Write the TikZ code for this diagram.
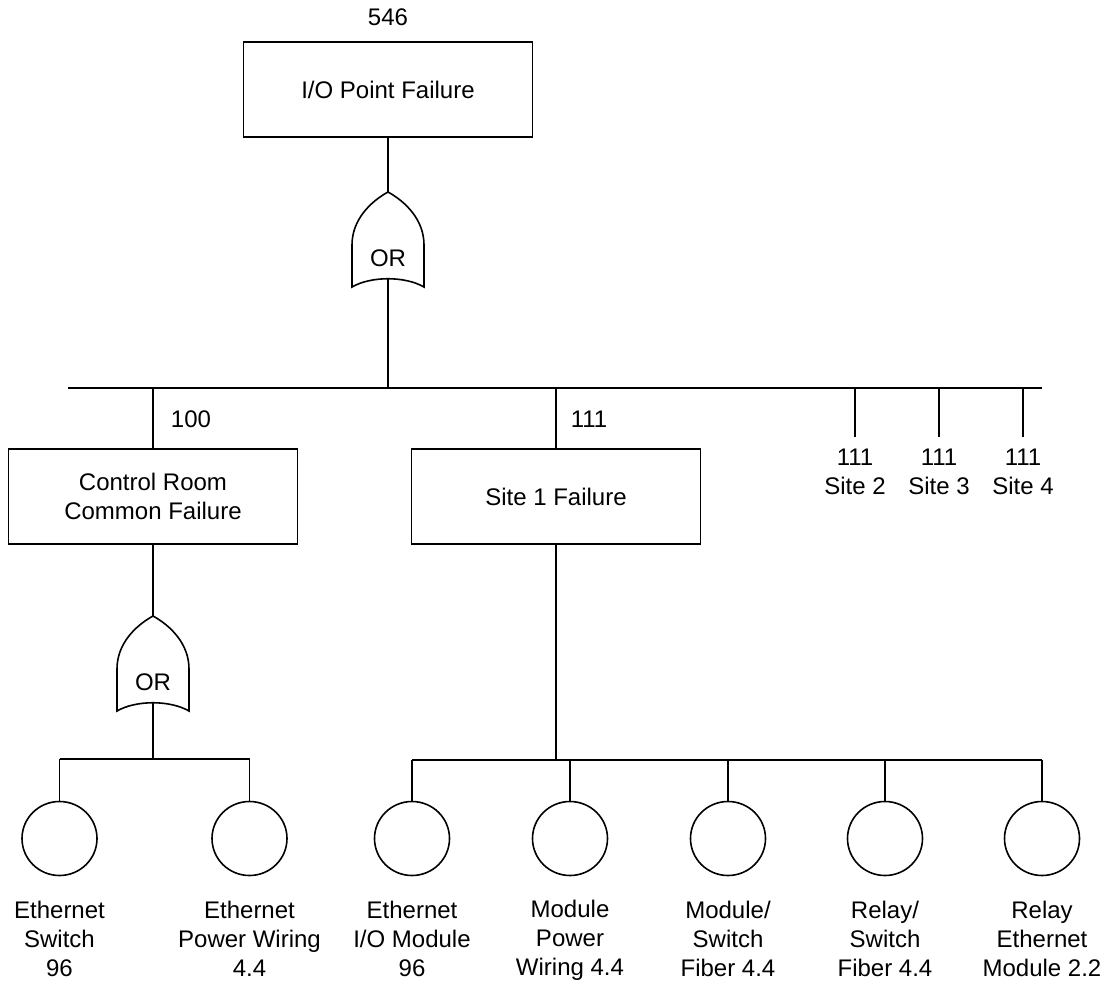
\documentclass[tikz,border=0pt]{standalone}
\usepackage{fontspec}
\setmainfont{Liberation Sans}
\usetikzlibrary{shapes.geometric}
\tikzset{
  txt/.style={font=\fontsize{24}{29}\selectfont, inner sep=0pt, align=center},
  event/.style={txt, draw, minimum width=289pt, minimum height=95pt},
  basic/.style={draw, ellipse, inner sep=0pt, minimum width=75pt, minimum height=74pt},
  % OR gate drawn from its tip downwards
  orgate/.pic={
    \draw (-36,95) -- (-36,53) .. controls (-36,28) and (-18,10) .. (0,0)
          .. controls (18,10) and (36,28) .. (36,53) -- (36,95)
          .. controls (17,84) and (-17,84) .. (-36,95) -- cycle;
    \node[txt] at (0,66) {OR};
  }
}
\begin{document}
\begin{tikzpicture}[x=1pt, y=-1pt, line width=1.6pt]
\useasboundingbox (0,0) rectangle (1116,984);

% top event
\node[txt] (n546) at (388,17) {546};
\node[event] (top) at (388,89.5) {I/O Point Failure};

% first OR gate
\pic at (388,192) {orgate};
\coordinate (g1t) at (388,192);
\coordinate (g1b) at (388,279);

% main bus
\coordinate (busL) at (68,388);
\coordinate (busR) at (1042,388);
\coordinate (busM) at (388,388);

% intermediate events
\node[event] (cr) at (153,496.5) {Control Room\\Common Failure};
\node[event] (s1) at (556,496.5) {Site 1 Failure};
\node[txt] (l100) at (191,419) {100};
\node[txt] (l111) at (589,419) {111};

% other sites
\node[txt] (s2) at (855,472) {111\\Site 2};
\node[txt] (s3) at (939,472) {111\\Site 3};
\node[txt] (s4) at (1023,472) {111\\Site 4};
\coordinate (s2t) at (855,437);
\coordinate (s3t) at (939,437);
\coordinate (s4t) at (1023,437);

% second OR gate
\pic at (153,616) {orgate};
\coordinate (g2t) at (153,616);
\coordinate (g2b) at (153,703);
\coordinate (b2) at (153,759);

% basic events
\node[basic] (e1) at (59.5,838.5) {};
\node[basic] (e2) at (249.5,838.5) {};
\node[basic] (e3) at (412,838.5) {};
\node[basic] (e4) at (570,838.5) {};
\node[basic] (e5) at (728,838.5) {};
\node[basic] (e6) at (885,838.5) {};
\node[basic] (e7) at (1042,838.5) {};
\coordinate (b3) at (556,760);

\node[txt] (t1) at (59.5,939) {Ethernet\\Switch\\96};
\node[txt] (t2) at (249.5,939) {Ethernet\\Power Wiring\\4.4};
\node[txt] (t3) at (412,939) {Ethernet\\I/O Module\\96};
\node[txt] (t4) at (570,940) {Module\\Power\\Wiring 4.4};
\node[txt] (t5) at (728,939) {Module/\\Switch\\Fiber 4.4};
\node[txt] (t6) at (885,939) {Relay/\\Switch\\Fiber 4.4};
\node[txt] (t7) at (1042,939) {Relay\\Ethernet\\Module 2.2};

% connectors
\draw (top.south) -- (g1t);
\draw (g1b) -- (busM);
\draw (busL) -- (busR);
\draw (cr.north |- busM) -- (cr.north);
\draw (s1.north |- busM) -- (s1.north);
\draw (s2t |- busM) -- (s2t);
\draw (s3t |- busM) -- (s3t);
\draw (s4t |- busM) -- (s4t);

\draw (cr.south) -- (g2t);
\draw (g2b) -- (b2);
\draw (e1.north |- b2) -- (e2.north |- b2);
\draw (e1.north |- b2) -- (e1.north);
\draw (e2.north |- b2) -- (e2.north);

\draw (s1.south) -- (b3);
\draw (e3.north |- b3) -- (e7.north |- b3);
\foreach \e in {e3,e4,e5,e6,e7}
  \draw (\e.north |- b3) -- (\e.north);
\end{tikzpicture}
\end{document}
